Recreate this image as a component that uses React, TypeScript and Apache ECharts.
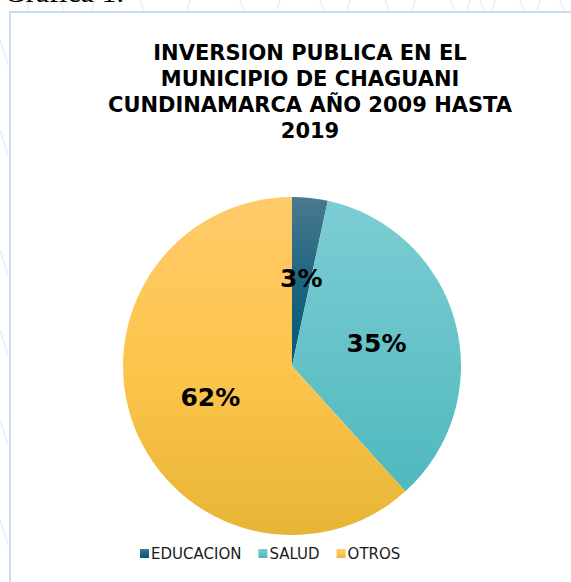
import React, { useEffect, useRef } from "react";
import * as echarts from "echarts";

const titleLines = [
  "INVERSION PUBLICA EN EL",
  "MUNICIPIO DE CHAGUANI",
  "CUNDINAMARCA AÑO 2009 HASTA",
  "2019",
];
const categories = ["EDUCACION", "SALUD", "OTROS"];
const shares = [3.4, 34.9, 61.7];
const gradientTops = ["#4a7890", "#7ccdd3", "#ffca6a"];
const gradientMids = ["#1f6580", "#66c3c9", "#fdc54c"];
const gradientBottoms = ["#005a75", "#4fb8bf", "#e7b536"];

export default function App() {
  const ref = useRef<HTMLDivElement>(null);
  useEffect(() => {
    if (!ref.current) return;
    const chart = echarts.init(ref.current, null, { renderer: "svg" });
    const bgLine = "#e9eef4";
    const decoLines: any[] = [];
    const topXs = [30, 60, 95, 140, 190, 240, 280, 320, 350, 385, 415, 450, 470, 480, 495, 520, 540, 560];
    topXs.forEach((x, i) => {
      decoLines.push({
        type: "line",
        shape: { x1: x, y1: 0, x2: x + (i % 2 ? 4 : -3), y2: 10 },
        style: { stroke: bgLine, lineWidth: 1.5 },
        silent: true,
      });
    });
    [40, 130, 250, 330, 420, 520].forEach((y) => {
      decoLines.push({
        type: "line",
        shape: { x1: 0, y1: y, x2: 8, y2: y + 25 },
        style: { stroke: bgLine, lineWidth: 1.5 },
        silent: true,
      });
    });

    chart.setOption({
      animation: false,
      backgroundColor: "#ffffff",
      title: {
        text: titleLines.join("\n"),
        left: 305,
        top: 35,
        textAlign: "center",
        textStyle: {
          fontFamily: "DejaVu Sans",
          fontWeight: "bold",
          fontSize: 21,
          lineHeight: 26,
          color: "#000000",
        },
      },
      legend: {
        left: 135,
        top: 541,
        itemWidth: 9,
        itemHeight: 9,
        itemGap: 17,
        icon: "rect",
        textStyle: {
          fontFamily: "DejaVu Sans",
          fontSize: 15,
          color: "#1a1a1a",
          padding: [0, 0, 0, -3],
        },
        data: categories,
      },
      graphic: [
        ...decoLines,
        {
          type: "rect",
          shape: { x: 10, y: 12, width: 600, height: 600 },
          style: { fill: "#ffffff", stroke: "#c9ddf7", lineWidth: 2 },
          silent: true,
          z: -1,
        },
        {
          type: "text",
          x: 4,
          y: -9,
          style: {
            text: "Gráfica 1.",
            font: "30px 'Liberation Serif'",
            fill: "#000000",
            verticalAlign: "middle",
          },
          silent: true,
        },
      ],
      series: [
        {
          type: "pie",
          center: [292, 366],
          radius: 169,
          startAngle: 90,
          clockwise: true,
          avoidLabelOverlap: false,
          label: {
            show: true,
            position: "inside",
            formatter: (p: any) => Math.round(p.value) + "%",
            fontFamily: "DejaVu Sans",
            fontWeight: "bold",
            fontSize: 25,
            color: "#000000",
          },
          labelLine: { show: false },
          emphasis: { disabled: true },
          itemStyle: { borderWidth: 0 },
          data: categories.map((name, i) => ({
            name,
            value: shares[i],
            itemStyle: {
              color: new echarts.graphic.LinearGradient(0, 0, 0, 1, [
                { offset: 0, color: gradientTops[i] },
                { offset: 0.5, color: gradientMids[i] },
                { offset: 1, color: gradientBottoms[i] },
              ]),
            },
          })),
        },
      ],
    });
    return () => chart.dispose();
  }, []);
  return (
    <div
      ref={ref}
      style={{ position: "fixed", left: 0, top: 0, width: 571, height: 582 }}
    />
  );
}
